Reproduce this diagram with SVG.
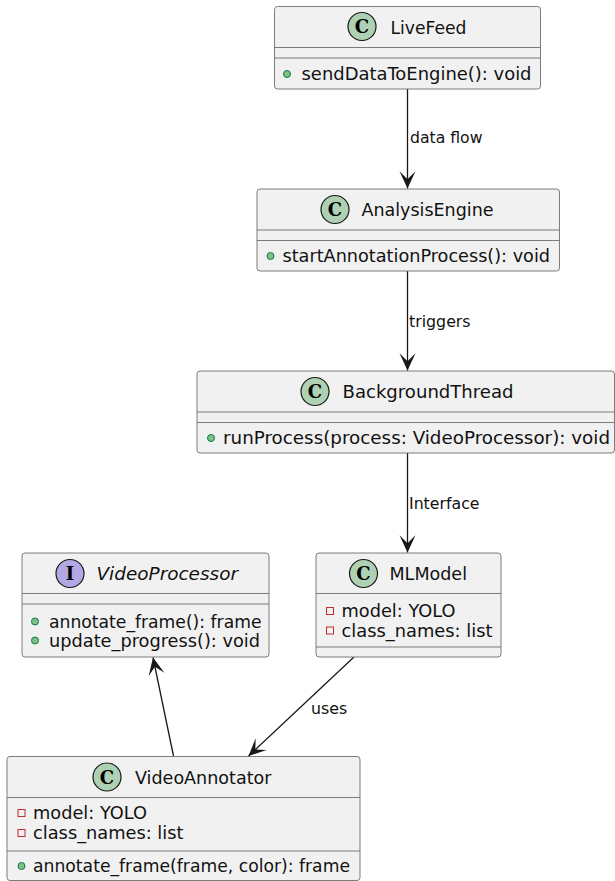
<svg xmlns="http://www.w3.org/2000/svg" width="615" height="881" viewBox="0 0 615 881">
<style>
.box{fill:#F1F1F1;stroke:#6e6e6e;stroke-width:0.9}
.sep{stroke:#6e6e6e;stroke-width:0.9}
.name{font-family:"DejaVu Sans",sans-serif;font-size:17.6px;fill:#111}
.iname{font-family:"DejaVu Sans",sans-serif;font-size:17.6px;font-style:italic;fill:#111}
.mem{font-family:"DejaVu Sans",sans-serif;font-size:17.5px;fill:#111}
.lbl{font-family:"DejaVu Sans",sans-serif;font-size:15.8px;fill:#111}
.cicon{fill:#ADD1B2;stroke:#181818;stroke-width:1.2}
.iicon{fill:#B4A7E5;stroke:#181818;stroke-width:1.2}
.ltr{font-family:"DejaVu Serif",serif;font-size:18px;font-weight:bold;fill:#000;text-anchor:middle}
.pub{fill:#84BE84;stroke:#038048;stroke-width:1}
.priv{fill:none;stroke:#C82930;stroke-width:1}
.edge{stroke:#181818;stroke-width:1.3;fill:none}
</style>
<defs>
<marker id="arr" markerUnits="userSpaceOnUse" markerWidth="20" markerHeight="20" viewBox="-14 -7 15 14" refX="0" refY="0" orient="auto">
<path d="M0,0 L-13,-6 L-7,0 L-13,6 Z" fill="#181818"/>
</marker>
</defs>
<g id="connectors">
<line class="edge" x1="407.5" y1="89" x2="407.5" y2="188.5" marker-end="url(#arr)"/>
<text class="lbl" x="410" y="143" textLength="72.5" lengthAdjust="spacingAndGlyphs">data flow</text>
<line class="edge" x1="407.5" y1="271" x2="407.5" y2="370.5" marker-end="url(#arr)"/>
<text class="lbl" x="409" y="327">triggers</text>
<line class="edge" x1="407.5" y1="453" x2="407.5" y2="552.5" marker-end="url(#arr)"/>
<text class="lbl" x="409" y="509" textLength="70.5" lengthAdjust="spacingAndGlyphs">Interface</text>
<line class="edge" x1="354" y1="657" x2="248.5" y2="756" marker-end="url(#arr)"/>
<text class="lbl" x="311" y="714">uses</text>
<line class="edge" x1="173.5" y1="756" x2="153" y2="657.5" marker-end="url(#arr)"/>
</g>
<g id="LiveFeed">
<rect class="box" x="274.5" y="6.5" width="266" height="82.5" rx="3"/>
<circle class="cicon" cx="362" cy="26.5" r="14"/>
<text class="ltr" x="362" y="33">C</text>
<text class="name" x="390.5" y="33.5" textLength="76" lengthAdjust="spacingAndGlyphs">LiveFeed</text>
<line class="sep" x1="274.5" y1="47.5" x2="540.5" y2="47.5"/>
<line class="sep" x1="274.5" y1="58" x2="540.5" y2="58"/>
<circle class="pub" cx="287" cy="74" r="3.5"/>
<text class="mem" x="301.5" y="80" textLength="230" lengthAdjust="spacingAndGlyphs">sendDataToEngine(): void</text>
</g>
<g id="AnalysisEngine">
<rect class="box" x="257" y="189" width="302.5" height="82" rx="3"/>
<circle class="cicon" cx="335" cy="209.5" r="14"/>
<text class="ltr" x="335" y="216">C</text>
<text class="name" x="361.5" y="216" textLength="132" lengthAdjust="spacingAndGlyphs">AnalysisEngine</text>
<line class="sep" x1="257" y1="230" x2="559.5" y2="230"/>
<line class="sep" x1="257" y1="240.5" x2="559.5" y2="240.5"/>
<circle class="pub" cx="270.5" cy="256" r="3.5"/>
<text class="mem" x="282.5" y="262" textLength="267.5" lengthAdjust="spacingAndGlyphs">startAnnotationProcess(): void</text>
</g>
<g id="BackgroundThread">
<rect class="box" x="197" y="371" width="417.5" height="82" rx="3"/>
<circle class="cicon" cx="315" cy="391.5" r="14"/>
<text class="ltr" x="315" y="398">C</text>
<text class="name" x="342.5" y="398" textLength="171" lengthAdjust="spacingAndGlyphs">BackgroundThread</text>
<line class="sep" x1="197" y1="412" x2="614.5" y2="412"/>
<line class="sep" x1="197" y1="422.5" x2="614.5" y2="422.5"/>
<circle class="pub" cx="211" cy="438" r="3.5"/>
<text class="mem" x="223" y="444" textLength="387" lengthAdjust="spacingAndGlyphs">runProcess(process: VideoProcessor): void</text>
</g>
<g id="VideoProcessor">
<rect class="box" x="22" y="553" width="247" height="104" rx="3"/>
<circle class="iicon" cx="70" cy="573.5" r="14"/>
<text class="ltr" x="70" y="580">I</text>
<text class="iname" x="96.5" y="580" textLength="141.5" lengthAdjust="spacingAndGlyphs">VideoProcessor</text>
<line class="sep" x1="22" y1="593.5" x2="269" y2="593.5"/>
<line class="sep" x1="22" y1="604" x2="269" y2="604"/>
<circle class="pub" cx="35" cy="621.5" r="3.5"/>
<text class="mem" x="49" y="627.5" textLength="212.5" lengthAdjust="spacingAndGlyphs">annotate_frame(): frame</text>
<circle class="pub" cx="35" cy="640.5" r="3.5"/>
<text class="mem" x="49" y="646.5" textLength="211" lengthAdjust="spacingAndGlyphs">update_progress(): void</text>
</g>
<g id="MLModel">
<rect class="box" x="316" y="553" width="185" height="104" rx="3"/>
<circle class="cicon" cx="363.5" cy="573.5" r="14"/>
<text class="ltr" x="363.5" y="580">C</text>
<text class="name" x="389.5" y="580" textLength="77.5" lengthAdjust="spacingAndGlyphs">MLModel</text>
<line class="sep" x1="316" y1="593.5" x2="501" y2="593.5"/>
<rect class="priv" x="326.5" y="607.5" width="7" height="7"/>
<text class="mem" x="341.5" y="617" textLength="114" lengthAdjust="spacingAndGlyphs">model: YOLO</text>
<rect class="priv" x="326.5" y="627" width="7" height="7"/>
<text class="mem" x="341.5" y="636.5" textLength="151" lengthAdjust="spacingAndGlyphs">class_names: list</text>
<line class="sep" x1="316" y1="647" x2="501" y2="647"/>
</g>
<g id="VideoAnnotator">
<rect class="box" x="7" y="756.5" width="353" height="124" rx="3"/>
<circle class="cicon" cx="107" cy="777" r="14"/>
<text class="ltr" x="107" y="783.5">C</text>
<text class="name" x="135" y="783.5" textLength="136.5" lengthAdjust="spacingAndGlyphs">VideoAnnotator</text>
<line class="sep" x1="7" y1="797.5" x2="360" y2="797.5"/>
<rect class="priv" x="18" y="809.5" width="7" height="7"/>
<text class="mem" x="33" y="819" textLength="114" lengthAdjust="spacingAndGlyphs">model: YOLO</text>
<rect class="priv" x="18" y="829.5" width="7" height="7"/>
<text class="mem" x="33" y="839" textLength="150.5" lengthAdjust="spacingAndGlyphs">class_names: list</text>
<line class="sep" x1="7" y1="851" x2="360" y2="851"/>
<circle class="pub" cx="21.5" cy="866" r="3.5"/>
<text class="mem" x="33" y="872" textLength="317" lengthAdjust="spacingAndGlyphs">annotate_frame(frame, color): frame</text>
</g>
</svg>
